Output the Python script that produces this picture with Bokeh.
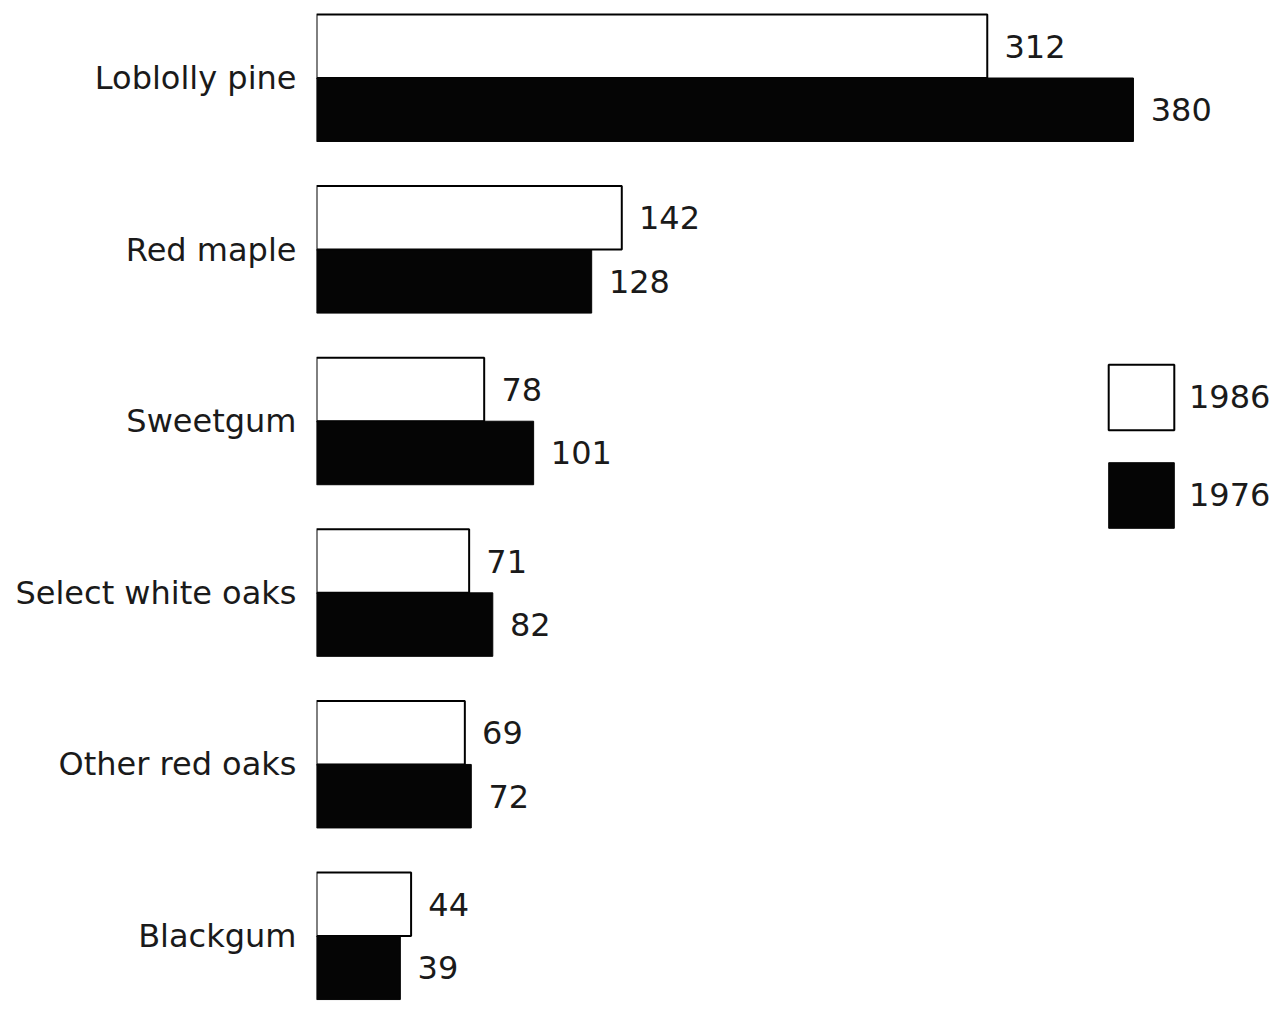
from bokeh.plotting import figure
from bokeh.models import ColumnDataSource, FixedTicker, Legend, LegendItem, Range1d
from bokeh.core.properties import value
from bokeh.embed import file_html
from bokeh.resources import INLINE

species = ["Loblolly pine", "Red maple", "Sweetgum", "Select white oaks", "Other red oaks", "Blackgum"]
vol_1986 = [312, 142, 78, 71, 69, 44]
vol_1976 = [380, 128, 101, 82, 72, 39]
years = ["1986", "1976"]

FONT = "DejaVu Sans"
FS = "32px"

n = len(species)
centers = [n - 1 - i for i in range(n)]
off = 0.185
bh = 0.37
pad = 8

src86 = ColumnDataSource(dict(y=[c + off for c in centers], v=vol_1986,
                              lx=[v + pad for v in vol_1986], t=[str(v) for v in vol_1986]))
src76 = ColumnDataSource(dict(y=[c - off for c in centers], v=vol_1976,
                              lx=[v + pad for v in vol_1976], t=[str(v) for v in vol_1976]))

p = figure(frame_width=961, frame_height=995, output_backend="svg", toolbar_location=None,
           x_range=Range1d(0, 447), y_range=Range1d(-0.393, 5.405),
           min_border_left=316, min_border_right=0, min_border_top=8, min_border_bottom=0)
p.outline_line_color = None
p.xgrid.visible = False
p.ygrid.visible = False
p.xaxis.visible = False

r86 = p.hbar(y="y", left=0, right="v", height=bh, source=src86,
             fill_color="white", line_color="black", line_width=2)
r76 = p.hbar(y="y", left=0, right="v", height=bh, source=src76,
             fill_color="#050505", line_color="#050505", line_width=1)

for s in (src86, src76):
    p.text(x="lx", y="y", text="t", source=s, text_font=value(FONT), text_font_size=FS,
           text_baseline="middle", text_align="left", text_color="#1a1a1a")

ya = p.yaxis[0]
ya.ticker = FixedTicker(ticks=centers)
ya.major_label_overrides = {c: s for c, s in zip(centers, species)}
ya.axis_line_color = None
ya.major_tick_line_color = None
ya.minor_tick_line_color = None
ya.major_tick_out = 0
ya.major_label_standoff = 20
ya.major_label_text_font = FONT
ya.major_label_text_font_size = FS
ya.major_label_text_color = "#1a1a1a"

legend = Legend(items=[LegendItem(label=years[0], renderers=[r86]),
                       LegendItem(label=years[1], renderers=[r76])],
                location=(784, 467), orientation="vertical",
                glyph_width=82, glyph_height=82, spacing=16, label_standoff=7,
                padding=0, margin=0, border_line_color=None, background_fill_alpha=0,
                label_text_font=FONT, label_text_font_size=FS, label_text_color="#1a1a1a")
p.add_layout(legend, "center")

open("out.html", "w").write(file_html(p, INLINE))
